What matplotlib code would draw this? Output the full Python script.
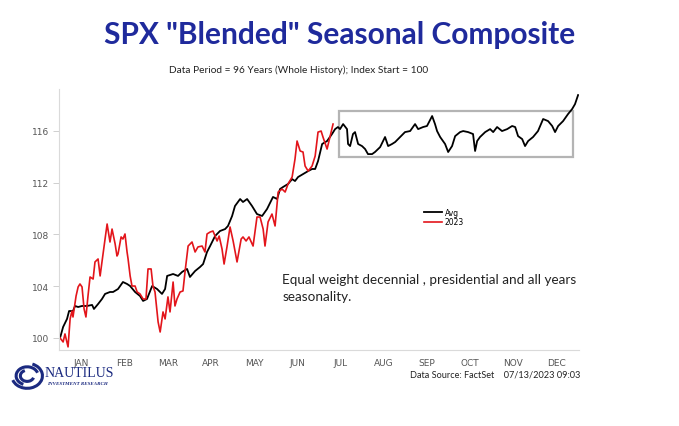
import numpy as np
import matplotlib.pyplot as plt
from matplotlib.patches import Rectangle, Arc

# Seasonal composite (trading day, index value)
avg_days = [0, 1.5, 3.4, 4.4, 6.3, 7.3, 8.8, 10.7, 13.1, 15.6, 16.5, 18.5, 20.4, 21.9, 24.3,
            25.8, 28.2, 30.6, 32.6, 34.1, 36.5, 38.9, 40.4, 42.3, 44.8, 47.2, 49.6, 51.1,
            52.1, 55.0, 57.4, 59.4, 61.8, 63.2, 65.7, 68.1, 69.6, 71.5, 73.0, 75.4, 77.8,
            80.3, 81.7, 83.7, 85.1, 87.6, 89.0, 91.0, 93.4, 95.8, 98.3, 100.7, 103.6, 105.6,
            107.0, 108.5, 110.9, 112.9, 114.3, 115.8, 118.2, 120.7, 122.6, 124.1, 125.5,
            127.5, 129.9, 132.3, 133.8, 135.2, 136.2, 137.7, 139.6, 140.1, 141.1, 142.5,
            143.5, 145.0, 146.9, 148.4, 149.8, 151.8, 153.2, 155.7, 158.1, 159.6, 161.5,
            163.0, 165.4, 167.8, 170.3, 172.7, 174.2, 176.6, 178.5, 181.0, 182.4, 183.4,
            184.9, 187.3, 188.8, 190.7, 192.2, 194.6, 196.1, 198.5, 200.9, 201.9, 202.9,
            204.3, 206.8, 209.2, 210.7, 212.6, 215.0, 217.5, 219.9, 221.4, 222.8, 224.8,
            226.2, 227.7, 230.1, 232.5, 235.0, 237.4, 239.4, 240.8, 242.3, 244.7, 247.1,
            249.1, 250.5, 252.0]
avg_vals = [100.0, 100.85, 101.47, 102.08, 102.08, 102.47, 102.39, 102.47, 102.47, 102.55,
            102.24, 102.62, 103.01, 103.40, 103.55, 103.55, 103.78, 104.32, 104.17, 104.01,
            103.55, 103.24, 102.86, 103.01, 104.01, 103.78, 103.40, 103.78, 104.79, 104.94,
            104.79, 105.10, 105.33, 104.71, 105.17, 105.48, 105.71, 106.64, 107.10, 107.87,
            108.26, 108.41, 108.65, 109.42, 110.19, 110.73, 110.50, 110.73, 110.19, 109.57,
            109.42, 109.96, 110.89, 110.73, 111.50, 111.66, 111.89, 112.27, 112.12, 112.43,
            112.66, 112.89, 113.05, 113.05, 113.66, 114.98, 115.21, 115.75, 116.13, 116.29,
            116.13, 116.52, 116.13, 114.98, 114.82, 115.75, 115.90, 114.98, 114.82, 114.59,
            114.20, 114.20, 114.36, 114.74, 115.52, 114.82, 114.98, 115.13, 115.52, 115.90,
            115.98, 116.52, 116.13, 116.29, 116.37, 117.14, 116.52, 115.98, 115.52, 114.98,
            114.36, 114.82, 115.59, 115.90, 115.98, 115.90, 115.75, 114.44, 115.21, 115.52,
            115.90, 116.13, 115.90, 116.29, 115.98, 116.13, 116.37, 116.29, 115.59, 115.36,
            114.82, 115.21, 115.52, 115.98, 116.91, 116.75, 116.37, 115.90, 116.37, 116.75,
            117.29, 117.68, 118.06, 118.76]

# 2023 year to date
y23_days = [0, 1.5, 2.4, 3.9, 4.9, 5.8, 6.3, 7.8, 8.8, 9.7, 10.7, 11.7, 12.6, 13.6, 14.6,
            16.1, 17.0, 18.5, 19.5, 20.4, 21.9, 22.9, 24.3, 25.3, 26.8, 27.7, 28.2, 29.7,
            30.6, 31.6, 32.6, 33.1, 34.1, 35.0, 36.5, 37.5, 38.9, 40.4, 41.8, 42.8, 44.3,
            45.2, 46.2, 47.7, 48.7, 50.1, 51.1, 52.5, 53.5, 55.0, 55.9, 56.9, 58.4, 59.8,
            60.8, 62.3, 64.2, 65.7, 67.1, 69.1, 70.5, 71.5, 73.0, 74.4, 76.4, 77.4, 78.8,
            79.8, 81.2, 82.7, 84.2, 86.1, 88.1, 89.0, 90.5, 91.9, 93.9, 95.8, 97.3, 98.8,
            99.7, 101.2, 103.1, 104.6, 106.1, 108.0, 109.5, 110.9, 112.9, 114.3, 115.3,
            116.8, 118.2, 119.2, 120.7, 122.6, 124.1, 125.5, 127.0, 127.9, 129.9, 131.4,
            132.8]
y23_vals = [100.0, 99.69, 100.31, 99.31, 101.47, 102.08, 101.62, 103.24, 103.94, 104.17,
            103.94, 102.24, 101.62, 103.24, 104.71, 104.55, 105.87, 106.10, 104.79, 105.87,
            107.64, 108.80, 107.41, 108.41, 107.26, 106.33, 106.48, 107.80, 107.64, 108.03,
            106.64, 106.10, 104.79, 104.01, 104.01, 103.55, 103.40, 103.01, 103.01, 105.33,
            105.33, 104.01, 103.55, 101.24, 100.46, 102.01, 101.47, 103.17, 102.01, 104.32,
            102.47, 103.01, 103.55, 103.63, 105.10, 107.10, 107.41, 106.64, 107.03, 107.10,
            106.64, 108.03, 108.18, 108.26, 107.49, 107.87, 106.87, 105.71, 107.03, 108.57,
            107.49, 105.87, 107.64, 107.80, 107.49, 107.80, 107.10, 109.34, 109.34, 108.41,
            107.10, 108.96, 109.57, 108.65, 111.27, 111.50, 111.27, 111.89, 112.43, 113.82,
            115.21, 114.44, 114.36, 113.28, 112.89, 113.28, 114.05, 115.90, 115.98, 115.52,
            114.59, 115.59, 116.52]

months = ['JAN', 'FEB', 'MAR', 'APR', 'MAY', 'JUN', 'JUL', 'AUG', 'SEP', 'OCT', 'NOV', 'DEC']
yticks = [100, 104, 108, 112, 116]

fig = plt.figure(figsize=(6.79, 4.27), dpi=100)
ax = fig.add_axes([0.0869, 0.178, 0.766, 0.611])

ax.plot(avg_days, avg_vals, color='black', lw=1.3, label='Avg')
ax.plot(y23_days, y23_vals, color='#e3151b', lw=1.2, label='2023')

# highlight box for the rest of the year
ax.add_patch(Rectangle((135.7, 113.97), 113.9, 3.55, fill=False,
                       edgecolor='#b4b4b4', lw=1.6))

ax.set_xlim(-0.5, 252.5)
ax.set_ylim(99.07, 119.22)
ax.set_xticks([10.5 + 21 * i for i in range(12)])
ax.set_xticklabels(months)
ax.set_yticks(yticks)
ax.tick_params(axis='x', length=0, labelsize=6.5, colors='#555555', pad=6)
ax.tick_params(axis='y', length=4, width=0.6, labelsize=6.5, colors='#555555',
               color='#c8c8c8', pad=3)
for s in ['top', 'right']:
    ax.spines[s].set_visible(False)
for s in ['left', 'bottom']:
    ax.spines[s].set_color('#dadada')
    ax.spines[s].set_linewidth(0.8)

ax.legend(loc='upper left', bbox_to_anchor=(0.695, 0.56), frameon=False, fontsize=5.5,
          handlelength=2.3, handletextpad=0.4, labelspacing=0.1, borderpad=0)

fig.text(0.5, 0.918, 'SPX "Blended" Seasonal Composite', ha='center', va='center',
         fontsize=21.5, fontweight='bold', color='#1f2a9c', family='Lato')
fig.text(0.439, 0.836, 'Data Period = 96 Years (Whole History); Index Start = 100',
         ha='center', va='center', fontsize=7.3, color='#222222', family='Lato')
fig.text(0.416, 0.325, 'Equal weight decennial , presidential and all years\nseasonality.',
         ha='left', va='center', fontsize=9.7, color='#222222', family='Lato',
         linespacing=1.5)
fig.text(0.855, 0.122, 'Data Source: FactSet    07/13/2023 09:03', ha='right',
         va='center', fontsize=6.6, color='#222222', family='Lato')

# logo
fig.text(0.066, 0.125, 'NAUTILUS', ha='left', va='center', fontsize=10,
         color='#1b2a80', family='Liberation Serif')
fig.text(0.069, 0.101, 'INVESTMENT RESEARCH', ha='left', va='center', fontsize=3.6,
         color='#1b2a80', family='Liberation Serif', style='italic', fontweight='bold')
lax = fig.add_axes([0.015, 0.085, 0.05, 0.065])
lax.set_xlim(-1, 1)
lax.set_ylim(-1, 1)
lax.axis('off')
for r, a0 in [(0.9, 200), (0.65, 20), (0.4, 110)]:
    lax.add_patch(Arc((0, 0), 2 * r, 2 * r, theta1=a0, theta2=a0 + 230,
                      color='#1b2a80', lw=2.2))

fig.savefig('out.png', dpi=100)
